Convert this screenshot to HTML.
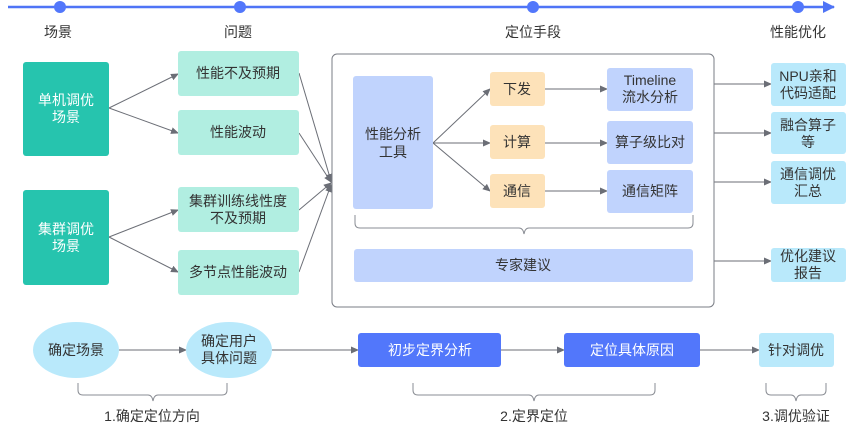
<!DOCTYPE html>
<html><head><meta charset="utf-8"><style>
html,body{margin:0;padding:0;background:#fff;}
svg{display:block;}
text{font-family:"Liberation Sans","Noto Sans CJK SC",sans-serif;font-size:14px;fill:#333;text-anchor:middle;}
.w{fill:#fff;}
</style></head><body>
<svg width="848" height="431" viewBox="0 0 848 431" xmlns="http://www.w3.org/2000/svg">
<defs>
<marker id="a" markerWidth="8" markerHeight="8" refX="7" refY="4" orient="auto" markerUnits="userSpaceOnUse"><path d="M0,0.5 L8,4 L0,7.5z" fill="#6b6e76"/></marker>
<marker id="b" markerWidth="12" markerHeight="12" refX="11" refY="6" orient="auto" markerUnits="userSpaceOnUse"><path d="M0,0 L12,6 L0,12z" fill="#4f74f6"/></marker>
</defs>
<line x1="8" y1="7" x2="834" y2="7" stroke="#4f74f6" stroke-width="2.5" marker-end="url(#b)"/>
<g fill="#5277fb"><circle cx="60" cy="7" r="6"/><circle cx="240" cy="7" r="6"/><circle cx="533" cy="7" r="6"/><circle cx="798" cy="7" r="6"/></g>
<text x="58" y="37">场景</text><text x="238" y="37">问题</text><text x="533" y="37">定位手段</text><text x="798" y="37">性能优化</text>

<g stroke="#6b6e76" stroke-width="1" fill="none">
<line x1="109" y1="108" x2="178" y2="74" marker-end="url(#a)"/>
<line x1="109" y1="108" x2="178" y2="133" marker-end="url(#a)"/>
<line x1="109" y1="237" x2="178" y2="210" marker-end="url(#a)"/>
<line x1="109" y1="237" x2="178" y2="272" marker-end="url(#a)"/>
<line x1="299" y1="73" x2="331" y2="181" marker-end="url(#a)"/>
<line x1="299" y1="133" x2="331" y2="182" marker-end="url(#a)"/>
<line x1="299" y1="210" x2="331" y2="183" marker-end="url(#a)"/>
<line x1="299" y1="272" x2="331" y2="185" marker-end="url(#a)"/>
<line x1="433" y1="143" x2="490" y2="89" marker-end="url(#a)"/>
<line x1="433" y1="143" x2="490" y2="143" marker-end="url(#a)"/>
<line x1="433" y1="143" x2="490" y2="191" marker-end="url(#a)"/>
<line x1="545" y1="89" x2="607" y2="89" marker-end="url(#a)"/>
<line x1="545" y1="143" x2="607" y2="143" marker-end="url(#a)"/>
<line x1="545" y1="191" x2="607" y2="191" marker-end="url(#a)"/>
<line x1="714" y1="84" x2="771" y2="84" marker-end="url(#a)"/>
<line x1="714" y1="133" x2="771" y2="133" marker-end="url(#a)"/>
<line x1="714" y1="182" x2="771" y2="182" marker-end="url(#a)"/>
<line x1="714" y1="261" x2="771" y2="261" marker-end="url(#a)"/>
<line x1="119" y1="350" x2="186" y2="350" marker-end="url(#a)"/>
<line x1="272" y1="350" x2="358" y2="350" marker-end="url(#a)"/>
<line x1="501" y1="350" x2="564" y2="350" marker-end="url(#a)"/>
<line x1="700" y1="350" x2="759" y2="350" marker-end="url(#a)"/>
</g>

<rect x="332" y="54" width="382" height="253" rx="5" fill="none" stroke="#7a7d85" stroke-width="1"/>

<rect x="23" y="62" width="86" height="94" rx="3" fill="#26c4ae"/>
<text class="w" x="66" y="105">单机调优</text><text class="w" x="66" y="122">场景</text>
<rect x="23" y="190" width="86" height="95" rx="3" fill="#26c4ae"/>
<text class="w" x="66" y="234">集群调优</text><text class="w" x="66" y="251">场景</text>

<g fill="#b1eee1">
<rect x="178" y="51" width="121" height="45" rx="3"/>
<rect x="178" y="110" width="121" height="45" rx="3"/>
<rect x="178" y="187" width="121" height="45" rx="3"/>
<rect x="178" y="250" width="121" height="45" rx="3"/>
</g>
<text x="238" y="78">性能不及预期</text>
<text x="238" y="137">性能波动</text>
<text x="238" y="206">集群训练线性度</text><text x="238" y="223">不及预期</text>
<text x="238" y="277">多节点性能波动</text>

<rect x="353" y="76" width="80" height="133" rx="3" fill="#c0d3fd"/>
<text x="393" y="139">性能分析</text><text x="393" y="157">工具</text>

<g fill="#fde2b9">
<rect x="490" y="72" width="55" height="34" rx="3"/>
<rect x="490" y="125" width="55" height="34" rx="3"/>
<rect x="490" y="174" width="55" height="34" rx="3"/>
</g>
<text x="517" y="94">下发</text><text x="517" y="147">计算</text><text x="517" y="196">通信</text>

<g fill="#c0d3fd">
<rect x="607" y="68" width="86" height="43" rx="3"/>
<rect x="607" y="121" width="86" height="43" rx="3"/>
<rect x="607" y="170" width="86" height="43" rx="3"/>
<rect x="354" y="249" width="339" height="33" rx="3"/>
</g>
<text x="650" y="85">Timeline</text><text x="650" y="102">流水分析</text>
<text x="650" y="147">算子级比对</text>
<text x="650" y="196">通信矩阵</text>
<text x="523" y="270">专家建议</text>

<g stroke="#8a8d94" stroke-width="1" fill="none">
<path d="M355,215 V223 Q355,228 360,228 H519 Q523,228 524,234 Q525,228 529,228 H688 Q693,228 693,223 V215"/>
<path d="M78,383 V390 Q78,395 83,395 H148 Q152,395 153,401 Q154,395 158,395 H222 Q227,395 227,390 V383"/>
<path d="M413,383 V390 Q413,395 418,395 H529 Q533,395 534,401 Q535,395 539,395 H650 Q655,395 655,390 V383"/>
<path d="M766,383 V390 Q766,395 771,395 H791 Q795,395 796,401 Q797,395 801,395 H821 Q826,395 826,390 V383"/>
</g>

<g fill="#b9e9fb">
<rect x="771" y="63" width="75" height="43" rx="3"/>
<rect x="771" y="112" width="75" height="42" rx="3"/>
<rect x="771" y="161" width="75" height="43" rx="3"/>
<rect x="771" y="248" width="75" height="34" rx="3"/>
<rect x="759" y="333" width="75" height="34" rx="3"/>
<ellipse cx="76" cy="350" rx="43" ry="28"/>
<ellipse cx="229" cy="350" rx="43" ry="28"/>
</g>
<text x="808" y="81">NPU亲和</text><text x="808" y="98">代码适配</text>
<text x="808" y="130">融合算子</text><text x="808" y="147">等</text>
<text x="808" y="179">通信调优</text><text x="808" y="196">汇总</text>
<text x="808" y="261">优化建议</text><text x="808" y="278">报告</text>
<text x="796" y="355">针对调优</text>
<text x="76" y="355">确定场景</text>
<text x="229" y="346">确定用户</text><text x="229" y="363">具体问题</text>

<g fill="#5277fb">
<rect x="358" y="333" width="143" height="34" rx="3"/>
<rect x="564" y="333" width="136" height="34" rx="3"/>
</g>
<text class="w" x="430" y="355">初步定界分析</text>
<text class="w" x="632" y="355">定位具体原因</text>

<text x="152" y="421">1.确定定位方向</text>
<text x="534" y="421">2.定界定位</text>
<text x="796" y="421">3.调优验证</text>
</svg>
</body></html>
